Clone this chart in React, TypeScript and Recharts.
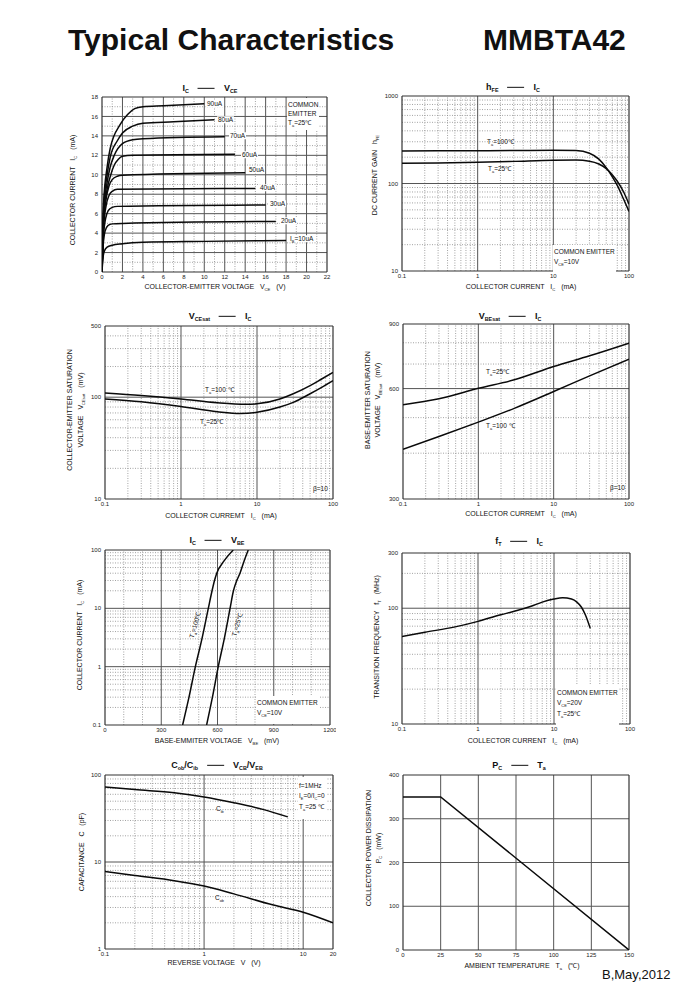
import React from 'react';
import { LineChart, Line, XAxis, YAxis, ReferenceLine } from 'recharts';

type Pt = [number, number];
const FONT = '"Liberation Sans", Arial, Helvetica, sans-serif';

// ---------------- Panel 1 : IC - VCE ----------------
const p1XTicks = [0, 2, 4, 6, 8, 10, 12, 14, 16, 18, 20, 22];
const p1YTicks = [0, 2, 4, 6, 8, 10, 12, 14, 16, 18];
const p1XMajor = [2, 4, 6, 8, 10, 12, 14, 16, 18, 20];
const p1XMinor = [1, 3, 5, 7, 9, 11, 13, 15, 17, 19, 21];
const p1YMajor = [2, 4, 6, 8, 10, 12, 14, 16];
const p1YMinor = [1, 3, 5, 7, 9, 11, 13, 15, 17];
const ib10: Pt[] = [[0, 0], [0.1, 1.5], [0.25, 2.2], [0.5, 2.55], [1, 2.75], [2, 2.9], [4, 3.05], [10, 3.15], [18, 3.25]];
const ib20: Pt[] = [[0, 0], [0.12, 2.8], [0.3, 4.2], [0.6, 4.8], [1, 4.95], [2, 5.0], [17, 5.2]];
const ib30: Pt[] = [[0, 0], [0.15, 3.8], [0.35, 5.5], [0.6, 6.3], [1, 6.65], [1.5, 6.75], [16, 6.9]];
const ib40: Pt[] = [[0, 0], [0.15, 4.5], [0.4, 6.8], [0.7, 7.9], [1, 8.3], [1.5, 8.5], [15, 8.6]];
const ib50: Pt[] = [[0, 0], [0.15, 5], [0.4, 7.5], [0.7, 8.9], [1.0, 9.5], [1.5, 9.85], [2, 9.95], [14, 10.2]];
const ib60: Pt[] = [[0, 0], [0.15, 5.5], [0.5, 8.5], [0.8, 9.8], [1.2, 11.0], [1.6, 11.6], [2, 11.9], [3, 12.0], [13, 12.1]];
const ib70: Pt[] = [[0, 0], [0.15, 6], [0.5, 9.2], [0.8, 10.8], [1.2, 12.0], [2, 13.2], [3, 13.6], [4, 13.7], [12, 13.9]];
const ib80: Pt[] = [[0, 0], [0.15, 6.5], [0.5, 10], [0.8, 11.8], [1.5, 13.5], [2, 14.3], [3, 15.0], [4, 15.3], [7, 15.45], [11, 15.65]];
const ib90: Pt[] = [[0, 0], [0.15, 7], [0.5, 10.8], [0.8, 12.7], [1.8, 15.2], [2.5, 16.2], [3.2, 16.8], [4, 17.0], [6, 17.1], [10, 17.3]];

// ---------------- Panel 2 : hFE - IC ----------------
const hfe100: Pt[] = [[0.1, 235], [0.3, 236], [1, 237], [3, 238], [10, 240], [20, 238], [30, 222], [40, 190], [50, 152], [60, 120], [70, 95], [85, 66], [100, 48]];
const hfe25: Pt[] = [[0.1, 170], [0.3, 172], [1, 175], [3, 179], [10, 184], [20, 185], [30, 180], [40, 167], [50, 148], [60, 126], [70, 106], [85, 80], [100, 58]];

// ---------------- Panel 3 : VCEsat - IC ----------------
const vcesat100: Pt[] = [[0.1, 110], [0.3, 104], [1, 96], [3, 88], [7, 85], [10, 86], [20, 96], [30, 108], [50, 130], [70, 150], [100, 175]];
const vcesat25: Pt[] = [[0.1, 96], [0.3, 90], [1, 81], [3, 72], [6, 69], [10, 71], [20, 80], [30, 89], [50, 108], [70, 124], [100, 145]];

// ---------------- Panel 4 : VBEsat - IC ----------------
const vbesat25: Pt[] = [[0.1, 542], [0.3, 563], [1, 601], [3, 634], [10, 689], [30, 737], [100, 798]];
const vbesat100: Pt[] = [[0.1, 410], [0.3, 444], [1, 486], [3, 530], [10, 589], [30, 650], [100, 722]];

// ---------------- Panel 5 : IC - VBE ----------------
const icvbe100: Pt[] = [[414, 0.1], [448, 0.3], [482, 1], [517, 3], [551, 10], [571, 20], [584, 30], [596, 40], [635, 65], [684, 100]];
const icvbe25: Pt[] = [[542, 0.1], [573, 0.3], [604, 1], [636, 3], [667, 10], [685, 20], [703, 30], [720, 40], [742, 65], [764, 100]];

// ---------------- Panel 6 : fT - IC ----------------
const ftData: Pt[] = [[0.1, 57], [0.2, 62], [0.5, 69], [1, 77], [2, 88], [3, 94], [5, 104], [7, 113], [10, 120], [13, 123], [17, 120], [20, 113], [23, 102], [26, 87], [30, 67]];

// ---------------- Panel 7 : Cob/Cib - V ----------------
const cibData: Pt[] = [[0.1, 73], [0.2, 68], [0.5, 62.5], [1, 56], [2, 48], [4, 40], [7, 33]];
const cobData: Pt[] = [[0.1, 7.8], [0.2, 7.0], [0.5, 6.1], [1, 5.3], [2, 4.3], [5, 3.2], [10, 2.65], [20, 2.0]];

// ---------------- Panel 8 : PC - Ta ----------------
const pcData: Pt[] = [[0, 350], [25, 350], [150, 0]];
const taTicks = [0, 25, 50, 75, 100, 125, 150];
const pcTicks = [0, 100, 200, 300, 400];

// ---------------- helpers ----------------
const minorLog = (from: number, to: number) => {
  const out: number[] = [];
  for (let d = from; d < to; d = +(d * 10).toPrecision(3)) {
    for (let m = 2; m <= 9; m++) {
      const v = +(d * m).toPrecision(3);
      if (v < to) out.push(v);
    }
  }
  return out;
};
const fmt = (v: number) => String(v);

interface PanelProps {
  plot: [number, number, number, number];
  xDomain: [number, number];
  xLog?: boolean;
  xTicks: number[];
  xMajor: number[];
  xMinor: number[];
  yDomain: [number, number];
  yLog?: boolean;
  yTicks: number[];
  yMajor: number[];
  yMinor: number[];
  curves: Pt[][];
  linear?: boolean;
}

function Panel(p: PanelProps) {
  const ML = 40, MT = 6, MR = 6, MB = 14;
  const [x0, y0, x1, y1] = p.plot;
  const width = x1 - x0 + ML + MR;
  const height = y1 - y0 + MT + MB;
  const minor = { stroke: '#8c8c8c', strokeWidth: 0.8, strokeDasharray: '1 1.5' };
  const major = { stroke: '#555', strokeWidth: 1 };
  const edge = { stroke: '#333', strokeWidth: 1.2 };
  const tick = { fontSize: 6, fill: '#222' };
  return (
    <div style={{ position: 'absolute', left: x0 - ML, top: y0 - MT }}>
      <LineChart width={width} height={height} margin={{ top: MT, right: MR, bottom: 0, left: 0 }}>
        <XAxis dataKey="x" type="number" scale={p.xLog ? 'log' : 'linear'} domain={p.xDomain} ticks={p.xTicks}
          interval={0} allowDataOverflow height={MB} tickLine={false} axisLine={false} tickSize={2} tickMargin={1}
          tick={tick} tickFormatter={fmt} />
        <YAxis dataKey="y" type="number" scale={p.yLog ? 'log' : 'linear'} domain={p.yDomain} ticks={p.yTicks}
          interval={0} allowDataOverflow width={ML} tickLine={false} axisLine={false} tickSize={3} tickMargin={1}
          tick={tick} tickFormatter={fmt} />
        {p.xMinor.map((v) => <ReferenceLine key={'xm' + v} x={v} {...minor} />)}
        {p.yMinor.map((v) => <ReferenceLine key={'ym' + v} y={v} {...minor} />)}
        {p.xMajor.map((v) => <ReferenceLine key={'xM' + v} x={v} {...major} />)}
        {p.yMajor.map((v) => <ReferenceLine key={'yM' + v} y={v} {...major} />)}
        <ReferenceLine x={p.xDomain[0]} {...edge} />
        <ReferenceLine x={p.xDomain[1]} {...edge} />
        <ReferenceLine y={p.yDomain[0]} {...edge} />
        <ReferenceLine y={p.yDomain[1]} {...edge} />
        {p.curves.map((c, i) => (
          <Line key={i} data={c.map(([x, y]) => ({ x, y }))} dataKey="y" type={p.linear ? 'linear' : 'monotone'}
            stroke="#0a0a0a" strokeWidth={1.5} dot={false} isAnimationActive={false} />
        ))}
      </LineChart>
    </div>
  );
}

const S = ({ t }: { t: string }) => (
  <span style={{ fontSize: '0.6em', position: 'relative', top: '0.4em' }}>{t}</span>
);
const Dash = () => (
  <span style={{ display: 'inline-block', width: 17, height: 0, borderTop: '1.2px solid #111', verticalAlign: 'middle', margin: '0 9px' }} />
);

type Mode = 'left' | 'center' | 'topleft';
interface AnnProps {
  x: number; y: number; size?: number; mode?: Mode; rotate?: number; bold?: boolean; bg?: boolean; lh?: number;
  align?: 'left' | 'center'; pad?: string; children: React.ReactNode;
}
const Ann = ({ x, y, size = 6.5, mode = 'left', rotate, bold, bg, lh, align = 'left', pad, children }: AnnProps) => {
  const base = mode === 'center' ? 'translate(-50%,-50%)' : mode === 'left' ? 'translateY(-50%)' : '';
  return (
    <div style={{
      position: 'absolute', left: x, top: y, fontSize: size, fontWeight: bold ? 700 : 400, whiteSpace: 'nowrap',
      lineHeight: lh ? `${lh}px` : 1.15, background: bg ? '#fff' : undefined, textAlign: align, color: '#111',
      transform: `${base}${rotate ? ` rotate(${rotate}deg)` : ''}`, padding: pad ?? (bg ? '0 1px' : undefined),
    }}>{children}</div>
  );
};
const YTitle = ({ x, y, lh, children }: { x: number; y: number; lh?: number; children: React.ReactNode }) => (
  <Ann x={x} y={y} size={7} mode="center" rotate={-90} align="center" lh={lh}>{children}</Ann>
);
const XTitle = ({ x, y, children }: { x: number; y: number; children: React.ReactNode }) => (
  <Ann x={x} y={y} size={7} mode="center">{children}</Ann>
);
const PTitle = ({ x, y, children }: { x: number; y: number; children: React.ReactNode }) => (
  <Ann x={x} y={y} size={9} mode="center" bold>{children}</Ann>
);
const sp = '\u00a0\u00a0\u00a0';

export default function App() {
  return (
    <div style={{ position: 'absolute', left: 0, top: 0, width: 700, height: 1000, background: '#fff', fontFamily: FONT, color: '#111' }}>
      <div style={{ position: 'absolute', left: 68, top: 25, fontSize: 30, fontWeight: 700, lineHeight: 1 }}>Typical Characteristics</div>
      <div style={{ position: 'absolute', left: 483, top: 25, fontSize: 30, fontWeight: 700, lineHeight: 1 }}>MMBTA42</div>
      <div style={{ position: 'absolute', left: 602, top: 968, fontSize: 13, lineHeight: 1 }}>B,May,2012</div>

      {/* Panel 1 */}
      <Panel plot={[102, 97, 327, 272]} xDomain={[0, 22]} xTicks={p1XTicks} xMajor={p1XMajor} xMinor={p1XMinor}
        yDomain={[0, 18]} yTicks={p1YTicks} yMajor={p1YMajor} yMinor={p1YMinor}
        curves={[ib10, ib20, ib30, ib40, ib50, ib60, ib70, ib80, ib90]} />
      {/* Panel 2 */}
      <Panel plot={[402, 96, 629, 271]} xDomain={[0.1, 100]} xLog xTicks={[0.1, 1, 10, 100]} xMajor={[1, 10]} xMinor={minorLog(0.1, 100)}
        yDomain={[10, 1000]} yLog yTicks={[10, 100, 1000]} yMajor={[100]} yMinor={minorLog(10, 1000)}
        curves={[hfe100, hfe25]} />
      {/* Panel 3 */}
      <Panel plot={[105, 326, 333, 499]} xDomain={[0.1, 100]} xLog xTicks={[0.1, 1, 10, 100]} xMajor={[1, 10]} xMinor={minorLog(0.1, 100)}
        yDomain={[10, 500]} yLog yTicks={[10, 100, 500]} yMajor={[100]} yMinor={minorLog(10, 500)}
        curves={[vcesat100, vcesat25]} />
      {/* Panel 4 */}
      <Panel plot={[403, 324, 629, 499]} xDomain={[0.1, 100]} xLog xTicks={[0.1, 1, 10, 100]} xMajor={[1, 10]} xMinor={minorLog(0.1, 100)}
        yDomain={[300, 900]} yLog yTicks={[300, 600, 900]} yMajor={[600]} yMinor={[400, 500, 700, 800]}
        curves={[vbesat25, vbesat100]} />
      {/* Panel 5 */}
      <Panel plot={[105, 550, 330, 725]} xDomain={[0, 1200]} xTicks={[0, 300, 600, 900, 1200]} xMajor={[300, 600, 900]}
        xMinor={[100, 200, 400, 500, 700, 800, 1000, 1100]}
        yDomain={[0.1, 100]} yLog yTicks={[0.1, 1, 10, 100]} yMajor={[1, 10]} yMinor={minorLog(0.1, 100)}
        curves={[icvbe100, icvbe25]} />
      {/* Panel 6 */}
      <Panel plot={[402, 553, 630, 724]} xDomain={[0.1, 100]} xLog xTicks={[0.1, 1, 10, 100]} xMajor={[1, 10]} xMinor={minorLog(0.1, 100)}
        yDomain={[10, 300]} yLog yTicks={[10, 100, 300]} yMajor={[100]} yMinor={minorLog(10, 300)}
        curves={[ftData]} />
      {/* Panel 7 */}
      <Panel plot={[105, 775, 333, 949]} xDomain={[0.1, 20]} xLog xTicks={[0.1, 1, 10, 20]} xMajor={[1, 10]} xMinor={minorLog(0.1, 20)}
        yDomain={[1, 100]} yLog yTicks={[1, 10, 100]} yMajor={[10]} yMinor={minorLog(1, 100)}
        curves={[cibData, cobData]} />
      {/* Panel 8 */}
      <Panel plot={[403, 775, 629, 950]} xDomain={[0, 150]} xTicks={taTicks} xMajor={[25, 50, 75, 100, 125]} xMinor={[]}
        yDomain={[0, 400]} yTicks={pcTicks} yMajor={[100, 200, 300]} yMinor={[]}
        curves={[pcData]} linear />

      {/* ---- Panel 1 text ---- */}
      <PTitle x={210} y={88}>I<S t="C" /><Dash />V<S t="CE" /></PTitle>
      <YTitle x={73} y={190}>COLLECTOR CURRENT{sp}I<S t="C" />{sp}(mA)</YTitle>
      <XTitle x={215} y={287}>COLLECTOR-EMITTER VOLTAGE{sp}V<S t="CE" />{sp}(V)</XTitle>
      <Ann x={206} y={104} bg>90uA</Ann>
      <Ann x={217} y={120} bg>80uA</Ann>
      <Ann x={229} y={136} bg>70uA</Ann>
      <Ann x={241} y={155} bg>60uA</Ann>
      <Ann x={248} y={170} bg>50uA</Ann>
      <Ann x={259} y={188} bg>40uA</Ann>
      <Ann x={269} y={204} bg>30uA</Ann>
      <Ann x={280} y={221} bg>20uA</Ann>
      <Ann x={289} y={239} bg>I<S t="B" />=10uA</Ann>
      <Ann x={287} y={98} mode="topleft" lh={9} bg pad="2px 1px 2px 1px">COMMON<br />EMITTER<br />T<S t="a" />=25℃</Ann>

      {/* ---- Panel 2 text ---- */}
      <PTitle x={513} y={87}>h<S t="FE" /><Dash />I<S t="C" /></PTitle>
      <YTitle x={375} y={175}>DC CURRENT GAIN{sp}h<S t="FE" /></YTitle>
      <XTitle x={521} y={287}>COLLECTOR CURRENT{sp}I<S t="C" />{sp}(mA)</XTitle>
      <Ann x={487} y={142}>T<S t="a" />=100℃</Ann>
      <Ann x={488} y={169}>T<S t="a" />=25℃</Ann>
      <Ann x={553} y={245} mode="topleft" lh={10} bg pad="2px 1px 4px 1px">COMMON EMITTER<br />V<S t="CE" />=10V</Ann>

      {/* ---- Panel 3 text ---- */}
      <PTitle x={220} y={316}>V<S t="CEsat" /><Dash />I<S t="C" /></PTitle>
      <YTitle x={75} y={410} lh={11}>COLLECTOR-EMITTER SATURATION<br />VOLTAGE{sp}V<S t="CEsat" />{sp}(mV)</YTitle>
      <XTitle x={221} y={516}>COLLECTOR CURREMT{sp}I<S t="C" />{sp}(mA)</XTitle>
      <Ann x={205} y={390}>T<S t="a" />=100 ℃</Ann>
      <Ann x={200} y={422}>T<S t="a" />=25℃</Ann>
      <Ann x={313} y={489}>β=10</Ann>

      {/* ---- Panel 4 text ---- */}
      <PTitle x={510} y={316}>V<S t="BEsat" /><Dash />I<S t="C" /></PTitle>
      <YTitle x={373} y={400} lh={10}>BASE-EMITTER SATURATION<br />VOLTAGE{sp}V<S t="BEsat" />{sp}(mV)</YTitle>
      <XTitle x={521} y={514}>COLLECTOR CURREMT{sp}I<S t="C" />{sp}(mA)</XTitle>
      <Ann x={486} y={372}>T<S t="a" />=25℃</Ann>
      <Ann x={486} y={426}>T<S t="a" />=100 ℃</Ann>
      <Ann x={610} y={488}>β=10</Ann>

      {/* ---- Panel 5 text ---- */}
      <PTitle x={217} y={540}>I<S t="C" /><Dash />V<S t="BE" /></PTitle>
      <YTitle x={80} y={635}>COLLECTOR CURRENT{sp}I<S t="C" />{sp}(mA)</YTitle>
      <XTitle x={217} y={741}>BASE-EMMITER VOLTAGE{sp}V<S t="BE" />{sp}(mV)</XTitle>
      <Ann x={195} y={625} mode="center" rotate={-74}>T<S t="a" />=100℃</Ann>
      <Ann x={237} y={625} mode="center" rotate={-74}>T<S t="a" />=25℃</Ann>
      <Ann x={256} y={696} mode="topleft" lh={10} bg pad="2px 1px 5px 1px">COMMON EMITTER<br />V<S t="CE" />=10V</Ann>

      {/* ---- Panel 6 text ---- */}
      <PTitle x={519} y={541}>f<S t="T" /><Dash />I<S t="C" /></PTitle>
      <YTitle x={377} y={637}>TRANSITION FREQUENCY{sp}f<S t="T" />{sp}(MHz)</YTitle>
      <XTitle x={523} y={741}>COLLECTOR CURRENT{sp}I<S t="C" />{sp}(mA)</XTitle>
      <Ann x={556} y={685} mode="topleft" lh={10} bg pad="3px 1px 7px 1px">COMMON EMITTER<br />V<S t="CE" />=20V<br />T<S t="a" />=25℃</Ann>

      {/* ---- Panel 7 text ---- */}
      <PTitle x={217} y={765}>C<S t="ob" />/C<S t="ib" /><Dash />V<S t="CB" />/V<S t="EB" /></PTitle>
      <YTitle x={82} y={852}>CAPACITANCE{sp}C{sp}(pF)</YTitle>
      <XTitle x={214} y={963}>REVERSE{'\u00a0'}VOLTAGE{sp}V{sp}(V)</XTitle>
      <Ann x={216} y={809}>C<S t="ib" /></Ann>
      <Ann x={215} y={898}>C<S t="ob" /></Ann>
      <Ann x={298} y={777} mode="topleft" lh={10} bg pad="4px 1px 6px 1px">f=1MHz<br />I<S t="E" />=0/I<S t="C" />=0<br />T<S t="a" />=25 ℃</Ann>

      {/* ---- Panel 8 text ---- */}
      <PTitle x={519} y={765}>P<S t="C" /><Dash />T<S t="a" /></PTitle>
      <YTitle x={374} y={848} lh={9.5}>COLLECTOR POWER DISSIPATION<br />P<S t="C" />{sp}(mW)</YTitle>
      <XTitle x={522} y={966}>AMBIENT TEMPERATURE{sp}T<S t="a" />{sp}(℃)</XTitle>
    </div>
  );
}
